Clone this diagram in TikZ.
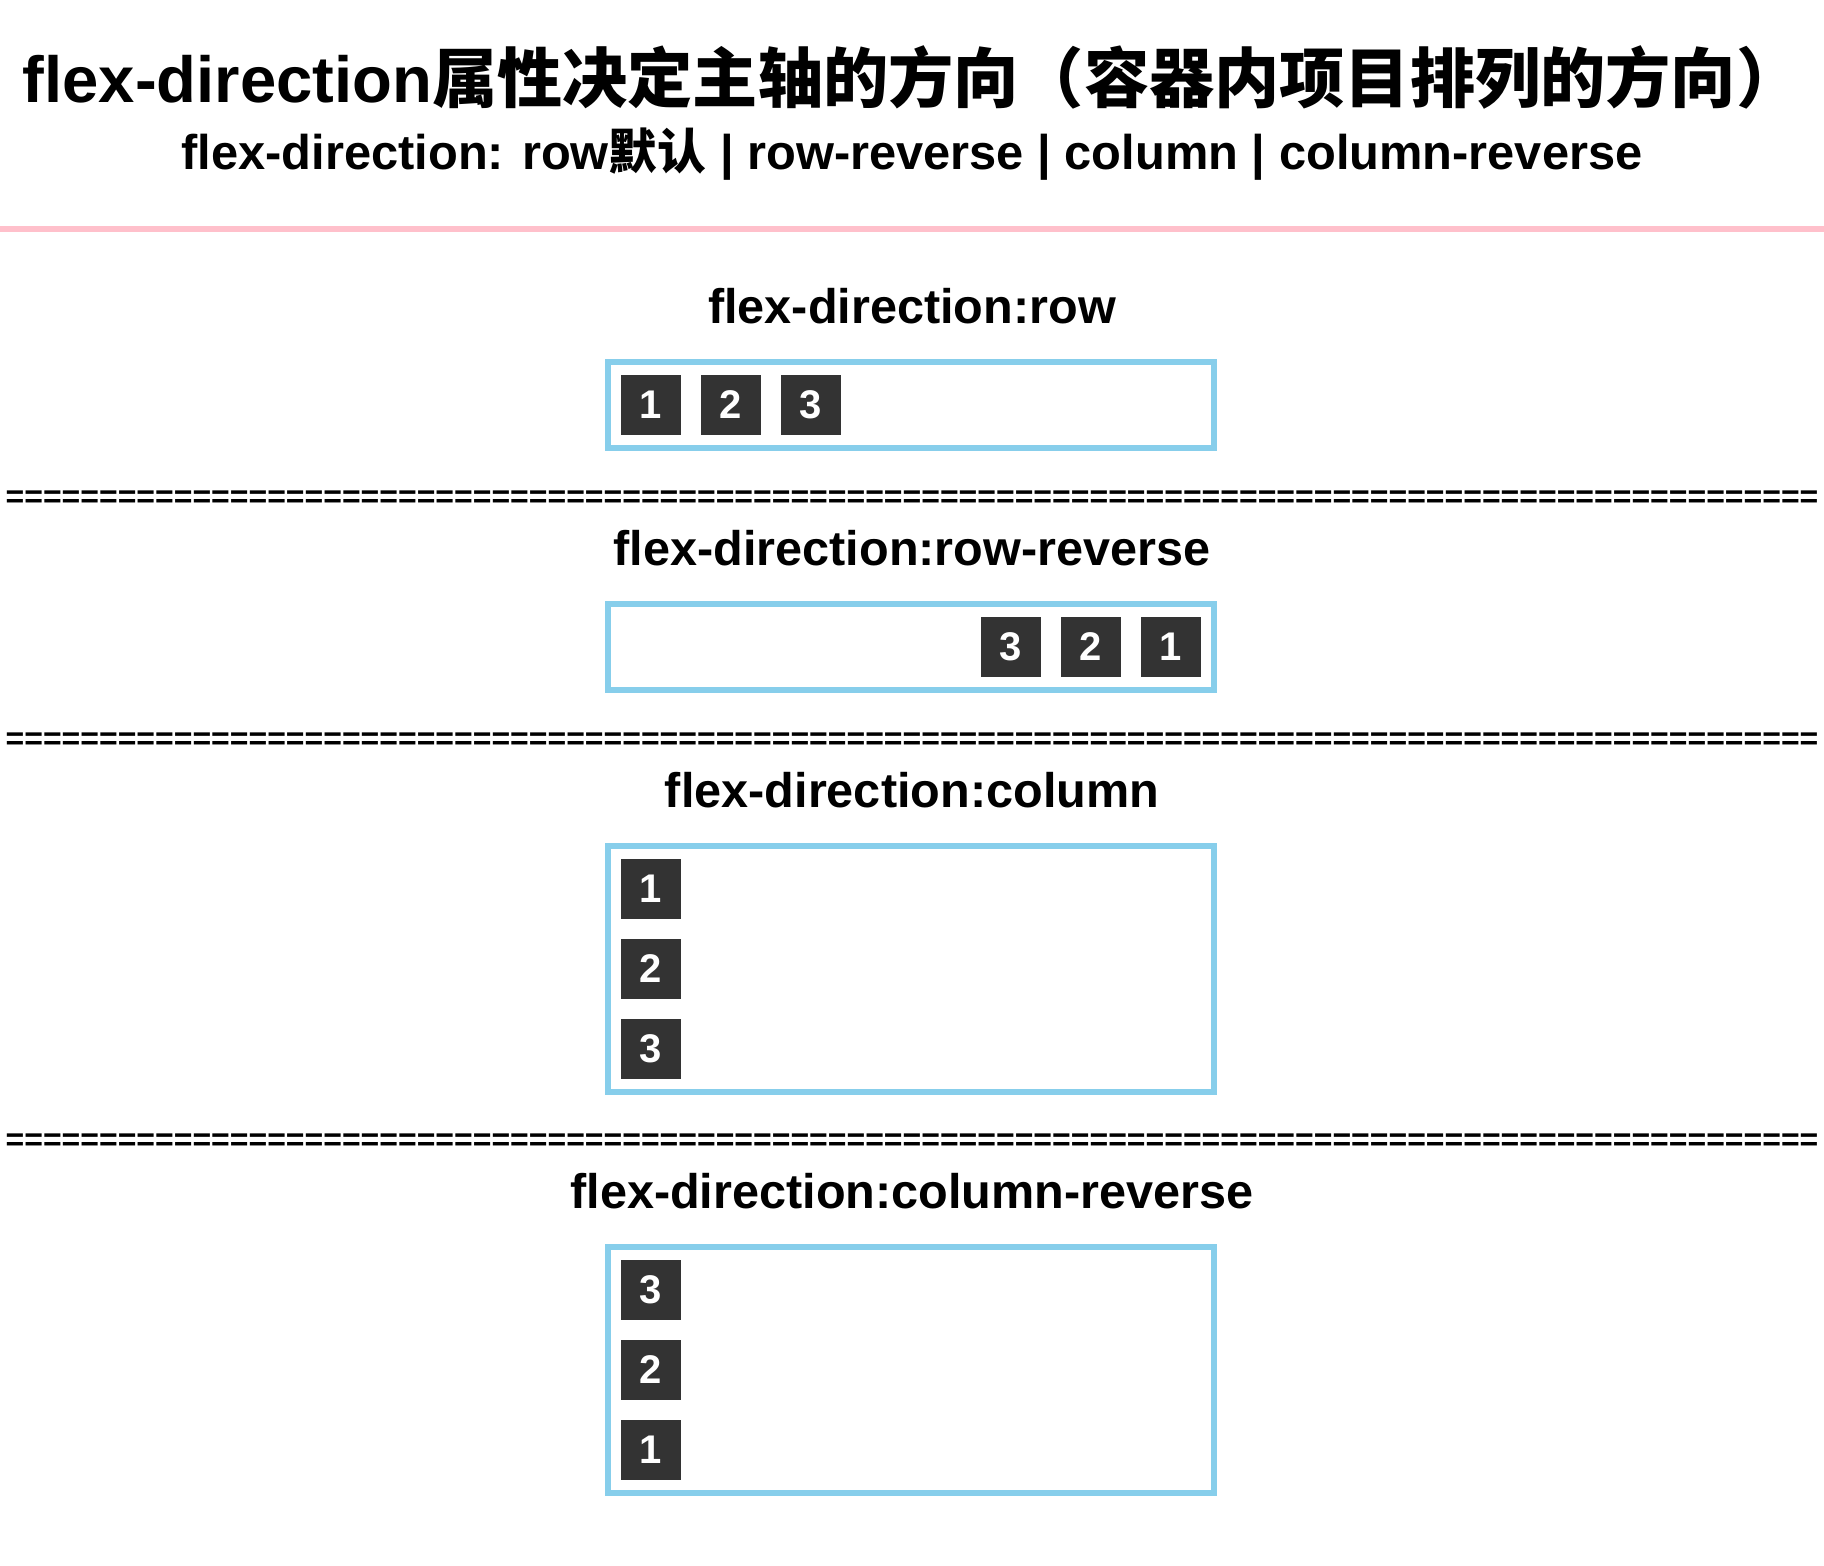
\documentclass[tikz,border=0pt]{standalone}
\usepackage{fontspec}
\setmainfont{Liberation Sans}
\newfontfamily\cjk{Noto Sans CJK SC}
\usetikzlibrary{positioning}
\definecolor{boxline}{RGB}{135,206,235}
\definecolor{itemfill}{RGB}{51,51,51}
\definecolor{rulepink}{RGB}{255,192,203}
\tikzset{
  heading/.style={font=\fontsize{32.6}{40}\selectfont\bfseries, inner sep=0pt},
  subhead/.style={font=\fontsize{24.4}{30}\selectfont\bfseries, inner sep=0pt},
  caption/.style={font=\fontsize{24.3}{30}\selectfont\bfseries, inner sep=0pt},
  sepline/.style={font=\fontsize{16}{19}\selectfont\bfseries, inner sep=0pt},
  flexbox/.style={draw=boxline, line width=3pt},
  item/.style={fill=itemfill, text=white, minimum size=30pt, inner sep=0pt,
    font=\fontsize{20}{22}\selectfont\bfseries}
}
\newcommand\eqrow{\foreach \i in {1,...,97}{=}}

\begin{document}
\begin{tikzpicture}[x=0.5pt,y=-0.5pt]
\useasboundingbox (0,0) rectangle (1824,1566);
\node[heading] (title) at (912,78) {flex-direction{\cjk 属性决定主轴的方向（容器内项目排列的方向）}};
\node[subhead] (sub) at (912,154) {flex-direction: row{\cjk 默认} | row-reverse | column | column-reverse};
\draw[rulepink, line width=3pt] (0,229) -- (1824,229);

% row
\node[caption] (caprow) at (912,306) {flex-direction:row};
\draw[flexbox] (608,362) rectangle (1214,448);
\foreach \n in {1,2,3}
  \node[item] (row\n) at ({651+(\n-1)*80},405) {\n};
\node[sepline] (sepa) at (912,499) {\eqrow};

% row-reverse
\node[caption] (caprowrev) at (912,548) {flex-direction:row-reverse};
\draw[flexbox] (608,604) rectangle (1214,690);
\foreach \n in {1,2,3}
  \node[item] (rowrev\n) at ({1171-(\n-1)*80},647) {\n};
\node[sepline] (sepb) at (912,741) {\eqrow};

% column
\node[caption] (capcol) at (912,790) {flex-direction:column};
\draw[flexbox] (608,846) rectangle (1214,1092);
\foreach \n in {1,2,3}
  \node[item] (col\n) at (651,{889+(\n-1)*80}) {\n};
\node[sepline] (sepc) at (912,1142) {\eqrow};

% column-reverse
\node[caption] (capcolrev) at (912,1191) {flex-direction:column-reverse};
\draw[flexbox] (608,1247) rectangle (1214,1493);
\foreach \n in {1,2,3}
  \node[item] (colrev\n) at (651,{1450-(\n-1)*80}) {\n};
\end{tikzpicture}
\end{document}
